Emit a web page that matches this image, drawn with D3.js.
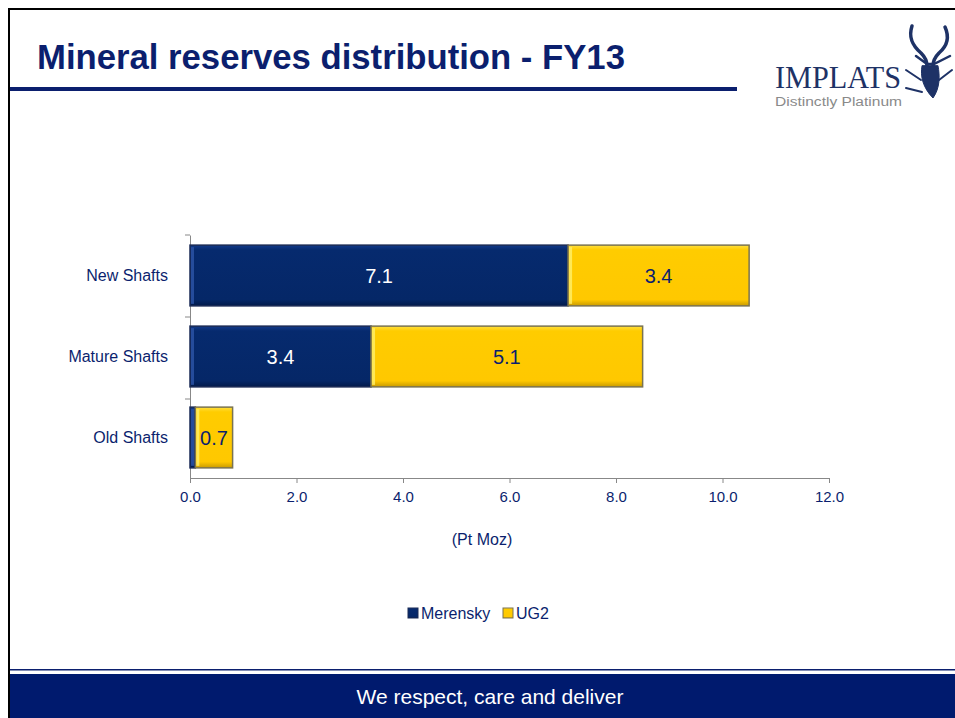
<!DOCTYPE html>
<html><head><meta charset="utf-8">
<script src="https://cdn.jsdelivr.net/npm/d3@7"></script>
<style>html,body{margin:0;padding:0;background:#fff;overflow:hidden}svg{display:block;font-family:"Liberation Sans",Arial,sans-serif}</style>
</head><body>
<script>
const categories = ["New Shafts", "Mature Shafts", "Old Shafts"];
const seriesNames = ["Merensky", "UG2"];
const merensky = [7.1, 3.4, 0.1];
const ug2 = [3.4, 5.1, 0.7];
const merenskyLabels = ["7.1", "3.4", ""];
const ug2Labels = ["3.4", "5.1", "0.7"];
const xTicks = [0, 2, 4, 6, 8, 10, 12];
const title = "Mineral reserves distribution - FY13";
const axisTitle = "(Pt Moz)";
const footer = "We respect, care and deliver";

const W = 955, H = 718;
const navy = "#0b1f6e";
const svg = d3.select("body").append("svg").attr("width", W).attr("height", H);
const defs = svg.append("defs");

function grad(id, stops, vertical) {
  const g = defs.append("linearGradient").attr("id", id)
    .attr("x1", 0).attr("y1", 0).attr("x2", vertical ? 0 : 1).attr("y2", vertical ? 1 : 0);
  stops.forEach(s => g.append("stop").attr("offset", s[0]).attr("stop-color", s[1]));
}
grad("gM", [[0, "#123a8a"], [0.08, "#062a6e"], [0.9, "#052767"], [1, "#021a4a"]], true);
grad("gU", [[0, "#ffe040"], [0.08, "#ffcc00"], [0.9, "#ffc800"], [1, "#c89a00"]], true);

// frame
svg.append("line").attr("x1", 8).attr("x2", W).attr("y1", 9).attr("y2", 9).attr("stroke", "#000").attr("stroke-width", 2);
svg.append("line").attr("x1", 9).attr("x2", 9).attr("y1", 8).attr("y2", H).attr("stroke", "#000").attr("stroke-width", 2);

// title
svg.append("text").attr("x", 37).attr("y", 69).attr("fill", navy)
  .attr("font-size", 34.7).attr("font-weight", "bold").text(title);
svg.append("rect").attr("x", 10).attr("y", 87).attr("width", 727).attr("height", 4).attr("fill", navy);

// logo
svg.append("text").attr("x", 775).attr("y", 88).attr("fill", "#1e3266")
  .attr("font-family", "'Liberation Serif', serif").attr("font-size", 31).attr("textLength", 126)
  .attr("lengthAdjust", "spacingAndGlyphs").text("IMPLATS");
svg.append("text").attr("x", 775).attr("y", 106).attr("fill", "#8a8a8a")
  .attr("font-size", 12).attr("textLength", 127).attr("lengthAdjust", "spacingAndGlyphs").text("Distinctly Platinum");
const logo = svg.append("g").attr("fill", "none").attr("stroke", "#1e3266").attr("stroke-linecap", "round");
logo.append("path").attr("d", "M912,26 C908,38 913,46 921,53 C925,57 927,61 927,66").attr("stroke-width", 3.5);
logo.append("path").attr("d", "M945,27 C950,38 946,47 939,53 C935,57 933,61 933,66").attr("stroke-width", 3.5);
logo.append("path").attr("d", "M916,56 L927,64 L934,64 L950,56").attr("stroke-width", 2.5);
logo.append("path").attr("d", "M922,66 C920,76 923,88 933,98 C940,88 940,76 938,66 Z").attr("fill", "#1e3266").attr("stroke-width", 1);
logo.append("path").attr("d", "M906,70 L921,80 M906,88 L922,92 M952,70 L939,80").attr("stroke-width", 2);

// chart
const x = d3.scaleLinear().domain([0, 12]).range([190, 829]);
const y = d3.scaleBand().domain(categories).range([235, 478]).paddingInner(0.25).paddingOuter(0.125);

const xAxis = svg.append("g").attr("transform", "translate(0,478)")
  .call(d3.axisBottom(x).tickValues(xTicks).tickFormat(d3.format(".1f")).tickSize(5).tickSizeOuter(0));
xAxis.select(".domain").attr("stroke", "#888");
xAxis.selectAll(".tick line").attr("stroke", "#888");
xAxis.selectAll(".tick text").attr("fill", navy).attr("font-size", 15).attr("dy", "1.05em");

const yAxis = svg.append("g").attr("transform", "translate(190,0)")
  .call(d3.axisLeft(y).tickSize(0));
yAxis.select(".domain").attr("stroke", "#888");
yAxis.selectAll(".tick text").attr("fill", navy).attr("font-size", 16).attr("x", -22);
svg.append("g").selectAll("line").data([235, 317, 399]).join("line")
  .attr("x1", 185).attr("x2", 190).attr("y1", d => d).attr("y2", d => d).attr("stroke", "#888");

const rows = categories.map((c, i) => ({ c, segs: [
  { s: 0, x0: 0, x1: merensky[i], lab: merenskyLabels[i] },
  { s: 1, x0: merensky[i], x1: merensky[i] + ug2[i], lab: ug2Labels[i] }
]}));
const bars = svg.append("g");
rows.forEach(r => {
  r.segs.forEach(sg => {
    const bx = x(sg.x0), bw = x(sg.x1) - x(sg.x0), by = y(r.c), bh = y.bandwidth();
    bars.append("rect").attr("x", bx).attr("y", by).attr("width", bw).attr("height", bh)
      .attr("fill", sg.s === 0 ? "url(#gM)" : "url(#gU)")
      .attr("stroke", sg.s === 0 ? "#1a2a55" : "#7a7350").attr("stroke-width", 1.5);
    bars.append("rect").attr("x", bx + 1).attr("y", by + 2).attr("width", Math.min(3, bw - 1)).attr("height", bh - 4)
      .attr("fill", sg.s === 0 ? "#2d55a8" : "#fff06a").attr("opacity", 0.8);
    if (sg.lab) {
      bars.append("text").attr("x", bx + bw / 2).attr("y", by + bh / 2).attr("dy", "0.36em")
        .attr("text-anchor", "middle").attr("font-size", 20)
        .attr("fill", sg.s === 0 ? "#fff" : navy).text(sg.lab);
    }
  });
});

svg.append("text").attr("x", 482).attr("y", 545).attr("text-anchor", "middle")
  .attr("fill", navy).attr("font-size", 16).text(axisTitle);

// legend
const legend = svg.append("g").attr("transform", "translate(408,606)");
const legX = [0, 95];
seriesNames.forEach((n, i) => {
  legend.append("rect").attr("x", legX[i]).attr("y", 2).attr("width", 10).attr("height", 10)
    .attr("fill", i === 0 ? "url(#gM)" : "url(#gU)").attr("stroke", i === 0 ? "#1a2a55" : "#7a7350");
  legend.append("text").attr("x", legX[i] + 13).attr("y", 13).attr("fill", navy).attr("font-size", 16).text(n);
});

// footer
svg.append("rect").attr("x", 10).attr("y", 669).attr("width", W - 10).attr("height", 1.5).attr("fill", navy);
svg.append("rect").attr("x", 10).attr("y", 674).attr("width", W - 10).attr("height", H - 674).attr("fill", "#001a6e");
svg.append("text").attr("x", 490).attr("y", 704).attr("text-anchor", "middle").attr("fill", "#fff")
  .attr("font-size", 21).text(footer);
</script>
</body></html>
